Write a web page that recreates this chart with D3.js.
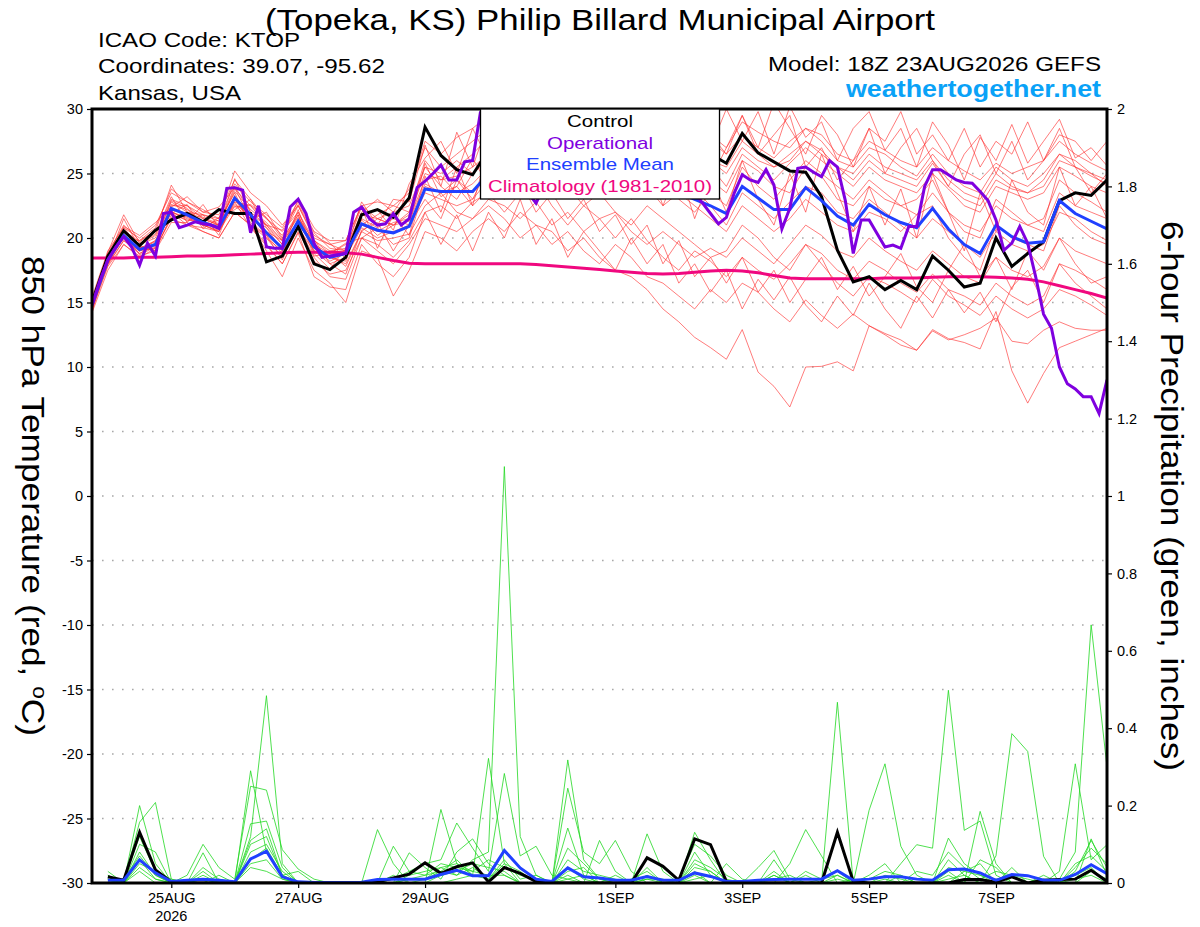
<!DOCTYPE html>
<html>
<head>
<meta charset="utf-8">
<script src="https://cdn.jsdelivr.net/npm/d3@7"></script>
<style>
  body { margin: 0; background: #fff; }
  svg text { font-family: "Liberation Sans", Arial, Helvetica, sans-serif; }
</style>
</head>
<body>
<div id="chart"></div>
<script>
// GEFS meteogram, 18Z 23AUG2026, KTOP. Temps 6-hourly from 18Z 23AUG (65 pts),
// operational 3-hourly (129 pts), precip 6-hour totals from 00Z 24AUG (64 pts).
var STEP_H = 6, OPER_STEP_H = 3;

var CTRL_T = [15.0,18.6,20.55,19.4,20.6,21.4,21.9,21.25,22.2,21.9,
              21.9,18.15,18.6,20.9,18.0,17.55,18.5,21.8,22.2,21.6,
              23.1,28.6,26.4,25.3,24.9,26.8,27.5,28.0,27.0,26.5,
              27.5,28.2,27.0,26.5,27.5,28.5,27.8,27.0,26.8,26.5,
              25.8,28.1,26.6,25.9,25.2,25.1,23.2,19.06,16.6,17.0,
              16.0,16.7,16.0,18.6,17.5,16.2,16.5,20.0,17.8,18.8,
              19.7,22.9,23.5,23.3,24.5];
var MEAN_T = [14.8,18.3,20.2,19.1,19.5,22.3,21.8,21.2,20.8,23.1,
              21.8,20.4,19.2,21.3,19.3,18.5,18.8,21.1,20.6,20.4,
              20.9,23.8,23.6,23.6,23.6,25.0,24.8,25.2,25.0,24.6,
              24.8,25.1,24.7,24.5,24.2,24.0,23.8,23.5,23.0,22.5,
              21.9,24.0,23.1,22.2,22.2,23.9,22.9,21.7,21.0,22.6,
              21.8,21.2,20.8,22.3,20.7,19.5,18.8,21.0,20.1,19.6,
              19.7,22.9,21.9,21.3,20.7];
var CLIM_T = [18.45,18.45,18.45,18.5,18.5,18.55,18.6,18.6,18.65,18.7,
              18.75,18.8,18.85,18.9,18.9,18.9,18.85,18.75,18.5,18.25,
              18.05,18.0,18.0,18.0,18.0,18.0,18.0,18.0,17.95,17.85,
              17.75,17.65,17.55,17.45,17.35,17.25,17.2,17.25,17.35,17.45,
              17.5,17.45,17.3,17.1,16.9,16.85,16.85,16.85,16.85,16.85,
              16.9,16.9,16.9,16.95,17.0,17.0,17.0,16.95,16.9,16.8,
              16.6,16.3,16.0,15.7,15.35];
var OPER_T = [14.8,16.7,18.3,19.3,20.1,19.3,17.9,19.6,18.6,21.9,22.0,
              20.8,21.0,21.25,21.1,21.0,20.75,23.85,23.9,23.7,20.4,
              22.5,19.3,19.2,19.2,22.4,23.0,21.9,19.6,18.5,18.6,
              18.7,18.8,22.0,22.4,21.5,21.0,21.1,21.9,21.0,21.5,
              23.9,24.4,25.0,25.65,24.5,24.5,25.9,26.0,29.8,28.0,
              27.0,26.0,25.5,24.5,23.5,22.7,24.0,25.0,26.0,25.5,
              26.5,27.0,26.0,25.5,26.5,27.5,26.0,25.0,26.0,27.0,
              26.5,25.5,26.0,25.0,24.5,23.5,22.7,21.9,21.1,21.6,
              23.5,24.9,24.5,24.3,25.3,24.1,20.7,22.3,25.4,25.5,
              25.1,24.75,26.0,25.5,22.9,18.8,21.4,21.4,20.35,19.3,
              19.45,19.2,20.9,20.9,24.0,25.3,25.3,24.9,24.5,24.3,
              24.25,23.6,22.9,21.4,19.05,19.6,20.9,19.6,17.0,14.1,
              13.0,10.0,8.7,8.3,7.7,7.7,6.4,9.0];

// ensemble members, 850 hPa temperature
var MEM_T_01 = [14.5,18.0,20.5,19.5,20.0,22.8,22.0,21.5,21.0,23.8,22.5,21.0,19.8,22.0,19.8,19.0,19.2,21.8,21.5,21.0,21.8,25.0,24.5,24.8,25.5,26.5,27.0,26.0,27.5,28.5,27.0,26.0,27.5,26.8,25.5,26.5,27.8,26.0,25.0,24.5,23.5,26.0,25.2,24.0,23.5,25.5,24.8,23.0,22.5,24.0,23.0,22.5,21.8,23.5,22.0,21.0,20.5,22.5,21.5,21.0,21.5,24.5,23.5,22.8,22.0];
var MEM_T_02 = [15.2,18.8,21.0,19.8,20.8,23.8,22.8,22.0,21.8,24.5,23.0,21.5,20.2,22.5,20.2,19.5,19.8,22.5,22.8,22.5,23.5,27.5,26.5,27.8,28.5,29.5,30.5,29.0,30.8,29.5,28.0,29.5,30.5,29.0,28.0,29.5,30.2,28.5,27.5,28.0,27.0,29.0,28.2,27.5,27.0,28.5,28.0,26.5,26.0,27.5,26.8,26.0,25.5,27.0,26.0,25.2,24.5,25.8,25.0,25.5,26.0,27.5,26.5,25.8,25.2];
var MEM_T_03 = [14.2,17.5,19.5,18.5,19.2,21.5,21.0,20.5,20.0,22.0,21.0,19.5,18.0,20.5,18.2,17.2,17.5,20.0,19.0,18.0,19.5,21.5,21.0,20.5,21.5,22.5,21.5,20.0,21.0,20.5,19.0,20.0,18.5,17.5,17.0,16.0,14.5,13.5,12.3,11.5,10.6,12.9,9.6,8.5,6.9,10.0,10.05,10.4,9.7,13.2,12.5,11.7,11.3,12.9,12.2,11.9,11.4,14.3,9.7,7.2,9.5,11.5,12.0,12.5,13.0];
var MEM_T_04 = [15.0,18.5,20.0,19.0,19.8,22.0,21.5,21.0,20.5,22.5,21.5,20.8,19.5,21.8,19.0,18.0,18.5,20.8,20.0,20.5,21.0,23.5,23.0,22.5,23.0,24.5,25.5,24.0,23.5,25.0,24.0,22.5,23.5,22.0,21.0,22.5,21.5,20.5,19.5,18.5,19.0,21.0,20.0,18.5,17.5,19.5,18.0,16.5,15.5,17.0,16.5,15.8,15.0,16.8,15.5,14.8,14.0,15.5,14.5,13.8,14.5,16.0,15.5,14.8,14.0];
var MEM_T_05 = [14.6,18.2,20.8,19.3,19.0,22.5,22.5,21.8,21.3,23.5,21.0,20.0,19.0,21.0,19.5,18.8,17.8,20.5,21.5,22.0,22.5,25.5,24.0,23.0,25.0,26.0,24.5,25.5,27.0,26.0,24.5,26.5,25.0,24.0,25.5,23.5,24.5,23.0,22.0,23.5,22.5,25.5,24.0,23.0,24.5,26.0,25.0,24.0,23.0,24.5,23.5,22.5,23.0,24.5,22.0,20.5,20.0,23.0,22.0,21.0,20.5,23.5,22.5,22.0,21.5];
var MEM_T_06 = [15.3,18.0,19.8,18.8,19.5,22.0,21.0,20.8,20.5,22.8,22.5,21.5,20.5,22.0,19.5,18.5,18.2,21.5,20.8,19.5,20.0,24.0,23.5,24.5,23.5,24.8,26.0,27.0,25.5,24.0,25.8,27.2,26.0,25.0,23.5,24.5,25.8,24.5,23.8,22.5,21.0,23.5,22.5,21.5,22.8,24.0,23.5,22.0,21.5,23.0,22.0,21.0,20.0,21.5,20.5,19.5,18.5,20.5,19.5,19.0,19.5,22.0,21.5,20.5,19.8];
var MEM_T_07 = [14.8,18.6,20.5,19.5,20.2,23.0,22.5,21.5,21.0,24.0,22.0,20.0,18.5,21.0,18.5,17.0,16.8,20.0,19.5,18.5,19.8,22.0,22.5,21.5,22.8,23.5,22.0,23.5,24.5,22.5,21.0,22.5,21.5,20.0,21.5,19.8,18.5,17.5,19.0,18.2,17.0,18.5,17.5,16.8,18.0,19.5,18.8,17.5,16.8,18.2,17.5,16.5,15.8,17.2,16.0,15.5,14.8,16.5,15.5,14.8,15.5,18.0,17.5,16.8,16.0];
var MEM_T_08 = [14.9,18.1,20.0,19.8,20.5,24.1,22.0,21.8,21.5,25.2,23.5,22.5,21.0,22.5,20.0,19.5,19.0,22.0,23.0,22.0,23.8,27.0,25.5,26.5,27.5,28.5,29.0,28.0,29.5,28.2,27.5,28.8,29.5,30.5,28.5,27.0,28.5,29.5,28.0,27.5,26.5,28.0,27.0,26.2,27.5,28.5,27.5,26.0,25.5,27.0,26.5,25.5,24.8,26.5,25.0,24.0,23.5,25.5,24.5,24.0,25.0,26.5,26.0,25.0,24.5];
var MEM_T_09 = [14.4,17.8,19.5,18.6,19.0,21.2,21.2,20.5,20.0,22.0,21.0,19.0,17.0,20.0,17.5,16.5,15.0,19.0,18.5,15.5,17.5,20.5,20.0,19.0,20.5,21.5,20.5,22.0,21.0,19.5,20.5,19.0,18.0,19.5,18.5,17.0,16.5,15.5,14.5,16.0,15.0,16.5,15.8,14.5,13.5,15.2,14.0,13.0,14.1,13.2,12.6,12.1,11.3,12.8,12.1,12.5,13.0,13.8,12.0,11.8,12.85,13.5,13.0,12.85,12.85];
var MEM_T_10 = [15.1,18.4,20.3,19.0,19.6,22.6,22.2,21.6,21.1,23.6,22.2,21.2,19.8,21.6,19.8,18.8,19.5,21.0,20.5,21.2,21.5,24.5,24.8,23.5,24.2,25.5,27.0,26.5,25.0,26.8,28.0,26.5,25.5,27.0,26.0,25.0,26.5,25.5,24.5,25.5,24.0,26.5,25.5,24.5,25.8,27.0,26.0,25.0,24.0,25.5,24.5,24.0,23.5,25.0,23.8,22.5,22.0,24.0,23.5,23.0,23.5,25.5,24.8,24.0,23.5];
var MEM_T_11 = [14.7,18.3,21.5,19.2,19.8,22.0,21.6,21.0,20.5,23.0,21.5,20.5,19.8,21.2,19.2,18.2,18.8,21.4,20.2,21.0,21.3,24.2,23.5,24.0,22.5,23.8,25.0,24.0,26.0,25.0,23.5,24.5,26.0,24.8,23.0,24.0,22.5,23.5,22.5,21.5,20.5,22.5,21.5,20.5,21.5,23.0,22.0,21.0,20.5,22.0,21.5,20.5,21.8,22.5,20.0,18.5,17.5,21.0,20.0,19.5,19.0,22.5,21.0,20.0,19.5];
var MEM_T_12 = [15.0,18.7,20.2,19.4,19.0,21.8,21.4,21.2,21.0,22.6,21.8,21.0,19.5,20.8,19.0,18.6,18.9,21.0,21.8,22.5,22.0,25.5,25.0,26.0,25.0,26.5,25.5,27.5,28.0,27.0,26.0,27.5,26.5,25.5,26.5,27.0,25.5,24.5,25.5,26.0,25.0,27.0,26.0,25.5,26.5,27.5,26.5,25.5,24.5,26.0,25.0,24.5,24.0,25.8,24.0,23.0,22.5,24.5,23.8,23.5,24.0,26.0,25.5,25.0,24.0];
var MEM_T_13 = [14.5,18.2,20.1,18.8,19.4,22.2,21.9,21.3,20.8,23.0,21.2,20.2,18.8,21.5,19.5,18.5,18.0,20.5,19.8,20.0,20.3,22.5,23.5,22.0,21.5,23.0,22.5,21.5,22.8,21.0,22.0,20.5,21.5,22.0,20.5,19.5,20.5,19.5,18.5,19.2,18.5,20.0,19.0,18.0,19.5,21.0,20.2,19.0,18.5,20.0,19.0,18.2,17.5,19.0,18.0,17.0,16.5,18.5,17.5,17.0,17.8,20.0,19.0,18.5,18.0];
var MEM_T_14 = [15.4,19.0,20.8,20.0,21.0,23.5,22.8,22.2,21.5,24.2,22.8,21.8,20.8,22.8,20.5,19.8,19.8,22.5,21.5,21.0,22.0,26.0,24.5,25.5,26.5,27.8,28.5,27.0,28.8,29.5,28.0,27.0,28.5,27.5,29.0,28.0,27.0,28.5,27.0,26.0,25.5,27.5,26.5,25.5,26.0,27.5,26.8,25.5,25.0,26.5,25.5,25.0,24.5,26.0,24.5,23.5,23.0,25.0,24.0,23.5,24.5,26.5,25.5,24.8,24.2];
var MEM_T_15 = [14.7,18.9,21.8,19.6,20.3,23.2,21.2,22.6,20.8,24.6,22.0,21.0,20.6,22.6,20.4,19.2,19.0,22.8,21.0,23.0,22.8,27.2,24.0,28.2,25.5,29.0,26.5,30.5,28.0,31.0,27.5,30.0,26.5,29.5,27.0,30.5,28.0,31.0,29.5,27.0,30.0,27.5,29.8,26.5,30.2,27.8,29.0,26.0,28.5,29.8,26.8,28.5,25.5,29.0,27.2,24.5,27.8,26.0,28.8,25.8,27.5,29.2,26.2,27.0,25.6];
var MEM_T_16 = [15.1,18.2,20.6,19.7,20.6,21.9,22.6,20.7,21.6,22.2,23.0,20.8,19.0,22.2,18.8,17.6,19.2,22.4,19.2,21.8,20.2,24.8,22.0,25.5,22.5,27.0,23.5,26.0,24.0,27.5,24.5,28.0,25.0,27.5,23.5,26.0,22.5,25.5,21.5,24.8,22.0,26.0,23.0,21.0,25.0,22.0,26.5,23.5,20.5,24.0,21.0,23.8,20.0,25.0,22.0,19.0,23.5,20.5,24.5,22.0,21.0,25.5,22.5,24.0,21.5];
var MEM_T_17 = [14.3,18.4,20.9,20.2,21.2,22.4,23.2,22.0,22.4,23.9,21.4,22.0,20.0,23.0,20.8,19.6,18.4,21.8,22.2,20.6,24.2,26.2,27.5,25.0,28.5,26.0,29.5,27.0,30.2,26.8,29.5,27.0,31.0,28.0,27.5,30.0,26.5,29.0,30.5,28.0,26.5,29.5,27.0,30.5,28.5,26.5,29.5,28.0,25.5,28.5,27.5,29.8,26.5,28.0,26.0,28.5,25.5,27.5,26.5,29.0,26.0,28.0,27.5,26.0,27.5];
var MEM_T_18 = [14.9,18.0,20.2,18.7,19.3,22.1,21.3,21.8,20.2,23.3,21.0,20.2,18.3,21.0,19.9,18.0,17.2,20.6,21.2,19.0,21.0,23.0,21.5,24.5,23.0,25.5,23.0,24.5,22.0,23.5,21.5,23.0,20.5,21.8,19.5,21.0,18.0,19.8,17.0,18.5,16.5,18.5,15.8,17.5,15.0,16.8,18.5,16.0,17.8,15.5,17.0,18.8,16.2,15.0,17.5,19.5,17.0,18.5,16.0,19.0,17.5,20.0,18.0,16.5,17.0];
var MEM_T_19 = [15.0,18.3,20.0,19.2,19.7,22.9,22.3,20.9,21.4,22.4,22.6,21.6,19.9,21.8,18.6,18.8,19.6,20.0,20.8,21.5,21.0,25.8,23.2,24.0,26.2,24.0,27.8,25.5,28.5,25.5,27.0,29.5,26.0,28.5,25.5,27.0,29.0,26.5,28.0,24.5,27.0,29.5,26.5,28.0,29.5,25.5,27.0,24.5,26.0,28.5,25.0,27.0,28.5,26.0,24.0,26.5,28.0,25.0,27.5,24.5,26.0,28.5,25.5,23.5,25.0];
var MEM_T_20 = [14.6,17.9,19.8,19.0,19.2,21.6,21.7,21.0,20.6,22.8,20.8,19.4,18.0,20.4,17.0,16.2,16.0,19.5,18.0,17.0,18.5,22.0,19.5,21.8,19.0,22.0,20.0,23.0,19.5,21.5,18.5,20.5,19.0,17.5,20.0,18.0,19.5,16.5,18.0,15.8,17.5,14.5,16.8,15.2,17.0,14.8,13.5,15.5,14.0,16.5,14.5,13.0,15.5,13.8,16.0,14.2,15.8,13.5,16.2,17.5,15.0,18.0,16.5,15.5,14.5];

// 6-hour precipitation (inches)
var CTRL_P = [0.016,0.007,0.131,0.034,0.003,0,0,0, 0,0,0,0,0,0,0,0,
              0,0.003,0.013,0.023,0.052,0.025,0.042,0.052, 0.003,0.040,0.025,0.004,0,0,0,0,
              0,0,0.065,0.043,0.007,0.114,0.099,0.004, 0,0,0,0,0,0,0.131,0.004,
              0,0,0,0,0,0,0.009,0.009, 0.002,0.016,0,0.007,0.009,0.010,0.033,0.004];
var MEAN_P = [0.007,0.007,0.060,0.026,0.004,0.007,0.010,0.007, 0.003,0.062,0.082,0.016,0.003,0.001,0.001,0.001,
              0.002,0.009,0.010,0.010,0.010,0.022,0.033,0.019, 0.019,0.084,0.039,0.010,0.004,0.039,0.016,0.013,
              0.007,0.007,0.017,0.007,0.007,0.026,0.017,0.004, 0.004,0.007,0.009,0.010,0.010,0.010,0.032,0.007,
              0.010,0.016,0.016,0.010,0.007,0.034,0.036,0.026, 0.007,0.022,0.019,0.007,0.007,0.022,0.047,0.024];
var MEM_P_01 = [0.02,0,0.20,0.05,0,0,0.03,0, 0,0.12,0.484,0.05,0,0,0,0, 0,0,0.02,0,0.01,0.04,0.02,0.06, 0.08,1.076,0.12,0.02,0,0.04,0.01,0,
                0,0.01,0.03,0,0,0.08,0.02,0, 0,0,0.02,0,0,0.01,0.03,0, 0,0,0.02,0,0,0.116,0.05,0.02, 0,0.04,0,0,0.01,0.08,0.667,0.30];
var MEM_P_02 = [0.01,0,0.157,0.208,0.01,0,0,0.02, 0,0.29,0.08,0.02,0,0,0,0, 0,0.138,0.05,0,0,0.19,0.05,0.02, 0.322,0.05,0,0,0,0.318,0.06,0.01,
                0,0,0.01,0,0,0.131,0.06,0, 0,0.04,0.084,0.01,0,0,0.467,0, 0,0.02,0.01,0,0,0.03,0,0.185, 0.05,0,0,0.02,0,0,0.114,0.02];
var MEM_P_03 = [0,0.01,0.12,0.03,0,0.02,0.10,0.04, 0.01,0.25,0.24,0.086,0.036,0.01,0,0, 0,0,0.095,0.03,0.05,0.06,0.155,0.09, 0.03,0.283,0.07,0.095,0.02,0.01,0,0.11,
                0.03,0,0.127,0.03,0,0,0,0.05, 0.01,0,0,0.05,0.138,0.07,0,0, 0.188,0.308,0.095,0.02,0,0,0,0, 0.07,0.386,0.34,0.069,0,0,0,0];
var MEM_P_04 = [0.03,0,0.10,0.08,0,0,0.078,0, 0,0.153,0.16,0.04,0,0,0,0, 0,0,0,0.078,0.04,0.01,0.08,0.114, 0.05,0.02,0,0,0,0.245,0.08,0.05,
                0.11,0.03,0,0,0.01,0.10,0.07,0.02, 0,0,0.06,0,0,0,0,0.01, 0,0,0.05,0.099,0.09,0.498,0.136,0.16, 0.02,0,0,0,0.03,0.308,0.06,0.099];
var MEM_P_05 = [0.01,0,0.08,0.02,0,0,0,0, 0,0.10,0.12,0.02,0.03,0,0,0, 0,0,0,0.02,0.03,0.04,0.05,0.03, 0.02,0.08,0.04,0.01,0,0.142,0.02,0,
                0,0,0,0,0,0.05,0.03,0, 0,0,0,0,0.02,0,0,0, 0,0,0,0,0,0.06,0.02,0, 0,0,0,0,0,0.04,0.09,0.05];
var MEM_P_06 = [0,0,0.06,0.01,0,0,0.01,0, 0,0.08,0.10,0.03,0,0,0,0, 0,0,0,0,0,0.02,0.03,0.05, 0.04,0.03,0,0,0,0.03,0.04,0,
                0,0,0.04,0,0,0.02,0,0, 0,0,0.03,0,0,0,0,0, 0.02,0.05,0,0,0,0.02,0,0.06, 0.04,0,0,0,0,0.02,0.04,0];
var MEM_P_07 = [0.02,0,0.04,0.01,0,0,0,0, 0,0.05,0.06,0.01,0,0,0,0, 0,0,0,0.01,0.02,0.03,0.02,0.04, 0.01,0.05,0.03,0,0,0.02,0,0,
                0.02,0,0,0,0,0.03,0,0, 0,0,0,0,0,0,0.01,0, 0,0,0,0,0,0,0.03,0.05, 0,0,0,0.01,0,0,0.03,0.01];
var MEM_P_08 = [0,0,0.03,0,0,0,0.02,0, 0,0.04,0.03,0.01,0,0,0,0, 0,0,0,0,0,0,0.01,0.02, 0.02,0.02,0,0,0,0.01,0.02,0,
                0,0,0,0,0,0.01,0.02,0, 0,0,0,0,0,0,0,0, 0,0,0,0,0,0.01,0.02,0, 0,0,0,0,0,0.01,0.02,0];
var MEM_P_09 = [0.01,0,0.05,0.03,0.01,0,0.04,0.01, 0,0.06,0.09,0.02,0,0,0,0, 0,0,0.01,0.03,0.02,0.05,0.04,0.03, 0.06,0.04,0.02,0.01,0,0.06,0.03,0.02,
                0.01,0,0.02,0,0,0.04,0.03,0, 0,0,0.01,0.02,0,0,0.02,0, 0.01,0.03,0.02,0,0,0.04,0.03,0.02, 0.01,0.02,0,0,0,0.05,0.07,0.03];
var MEM_P_10 = [0,0.01,0.07,0.02,0,0,0.01,0, 0,0.11,0.14,0.02,0,0,0,0, 0,0,0,0.01,0.01,0.03,0.06,0.02, 0.01,0.06,0.01,0.02,0,0.09,0.05,0.01,
                0,0,0.01,0.01,0,0.06,0.04,0.01, 0,0,0.02,0,0.03,0.01,0.02,0, 0,0.01,0,0.03,0.02,0.08,0.04,0.01, 0.03,0.02,0.01,0,0,0.03,0.11,0.04];

var MEMBERS_T = [MEM_T_01, MEM_T_02, MEM_T_03, MEM_T_04, MEM_T_05, MEM_T_06, MEM_T_07,
                 MEM_T_08, MEM_T_09, MEM_T_10, MEM_T_11, MEM_T_12, MEM_T_13, MEM_T_14,
                 MEM_T_15, MEM_T_16, MEM_T_17, MEM_T_18, MEM_T_19, MEM_T_20];
var MEMBERS_P = [MEM_P_01, MEM_P_02, MEM_P_03, MEM_P_04, MEM_P_05,
                 MEM_P_06, MEM_P_07, MEM_P_08, MEM_P_09, MEM_P_10];

// axis ticks
var XTICK_HOURS = [30, 78, 126, 198, 246, 294, 342];
var XTICK_LABELS = ['25AUG', '27AUG', '29AUG', '1SEP', '3SEP', '5SEP', '7SEP'];
var T_TICKS = [-30, -25, -20, -15, -10, -5, 0, 5, 10, 15, 20, 25, 30];
var P_TICKS = [0, 0.2, 0.4, 0.6, 0.8, 1, 1.2, 1.4, 1.6, 1.8, 2];
var LEGEND = [['Control', '#000000'], ['Operational', '#7f00df'],
              ['Ensemble Mean', '#2040ff'], ['Climatology (1981-2010)', '#f0087f']];

(function () {
    'use strict';
    var W = 1200, H = 927;
    var L = 92, R = 1107, T = 109, B = 883;

    var svg = d3.select('#chart').append('svg')
        .attr('width', W).attr('height', H).style('background', '#fff');

    var x = d3.scaleLinear().domain([0, 384]).range([L, R]);
    var yT = d3.scaleLinear().domain([-30, 30]).range([B, T]);
    var yP = d3.scaleLinear().domain([0, 2]).range([B, T]);

    svg.append('defs').append('clipPath').attr('id', 'plot')
        .append('rect').attr('x', L).attr('y', T).attr('width', R - L).attr('height', B - T);

    // dotted grid from the temperature axis
    T_TICKS.filter(function (t) { return t > -30 && t < 30; }).forEach(function (t) {
        svg.append('line').attr('x1', L).attr('x2', R).attr('y1', yT(t)).attr('y2', yT(t))
            .attr('stroke', '#a8a8a8').attr('stroke-width', 1.6).attr('stroke-dasharray', '1.6,8.4');
    });

    var g = svg.append('g').attr('clip-path', 'url(#plot)');

    var lineT = function (step) {
        return d3.line().x(function (d, i) { return x(i * step); }).y(function (d) { return yT(d); });
    };
    var lineP = d3.line().x(function (d, i) { return x((i + 1) * STEP_H); }).y(function (d) { return yP(d); });

    MEMBERS_T.forEach(function (m) {
        g.append('path').datum(m).attr('d', lineT(STEP_H)).attr('fill', 'none')
            .attr('stroke', '#ff3030').attr('stroke-opacity', 0.75).attr('stroke-width', 0.85);
    });
    MEMBERS_P.forEach(function (m) {
        g.append('path').datum(m).attr('d', lineP).attr('fill', 'none')
            .attr('stroke', '#22d822').attr('stroke-width', 0.8);
    });

    g.append('path').datum(CLIM_T).attr('d', lineT(STEP_H)).attr('fill', 'none')
        .attr('stroke', '#f0087f').attr('stroke-width', 3);
    g.append('path').datum(CTRL_P).attr('d', lineP).attr('fill', 'none')
        .attr('stroke', '#000').attr('stroke-width', 3);
    g.append('path').datum(MEAN_P).attr('d', lineP).attr('fill', 'none')
        .attr('stroke', '#2040ff').attr('stroke-width', 3);
    g.append('path').datum(CTRL_T).attr('d', lineT(STEP_H)).attr('fill', 'none')
        .attr('stroke', '#000').attr('stroke-width', 3);
    g.append('path').datum(MEAN_T).attr('d', lineT(STEP_H)).attr('fill', 'none')
        .attr('stroke', '#2040ff').attr('stroke-width', 3);
    g.append('path').datum(OPER_T).attr('d', lineT(OPER_STEP_H)).attr('fill', 'none')
        .attr('stroke', '#7f00df').attr('stroke-width', 3);

    // axes
    var ax = svg.append('g').attr('transform', 'translate(' + L + ',0)')
        .call(d3.axisLeft(yT).tickValues(T_TICKS).tickSize(5).tickPadding(4)
            .tickFormat(function (d) { return String(d); }));
    var ar = svg.append('g').attr('transform', 'translate(' + R + ',0)')
        .call(d3.axisRight(yP).tickValues(P_TICKS).tickSize(5).tickPadding(5)
            .tickFormat(function (d) { return String(+d.toFixed(1)); }));
    var ab = svg.append('g').attr('transform', 'translate(0,' + B + ')')
        .call(d3.axisBottom(x).tickValues(XTICK_HOURS).tickSize(5).tickPadding(5)
            .tickFormat(function (d, i) { return XTICK_LABELS[i]; }));
    [ax, ar, ab].forEach(function (a) {
        a.select('.domain').remove();
        a.selectAll('text').attr('font-size', 14.5).attr('fill', '#000')
            .attr('font-family', '"Liberation Sans", Arial, sans-serif');
        a.selectAll('line').attr('stroke', '#000').attr('stroke-width', 1.2);
    });
    svg.append('text').attr('x', x(XTICK_HOURS[0])).attr('y', 921)
        .attr('text-anchor', 'middle').attr('font-size', 14.5).text('2026');

    svg.append('rect').attr('x', L).attr('y', T).attr('width', R - L).attr('height', B - T)
        .attr('fill', 'none').attr('stroke', '#000').attr('stroke-width', 3);

    // legend box
    svg.append('rect').attr('x', 480.5).attr('y', T).attr('width', 239).attr('height', 90)
        .attr('fill', '#fff').attr('stroke', '#000').attr('stroke-width', 1.3);
    var legW = [66, 106, 148, 224];
    LEGEND.forEach(function (d, i) {
        svg.append('text').attr('x', 600).attr('y', 127 + i * 21.6)
            .attr('text-anchor', 'middle').attr('font-size', 17).attr('fill', d[1])
            .attr('textLength', legW[i]).attr('lengthAdjust', 'spacingAndGlyphs').text(d[0]);
    });

    // titles
    svg.append('text').attr('x', 600).attr('y', 30).attr('text-anchor', 'middle')
        .attr('font-size', 30).attr('textLength', 670).attr('lengthAdjust', 'spacingAndGlyphs')
        .text('(Topeka, KS) Philip Billard Municipal Airport');
    [['ICAO Code: KTOP', 47, 202], ['Coordinates: 39.07, -95.62', 73, 287], ['Kansas, USA', 100, 143]]
        .forEach(function (d) {
            svg.append('text').attr('x', 98).attr('y', d[1]).attr('font-size', 21)
                .attr('textLength', d[2]).attr('lengthAdjust', 'spacingAndGlyphs').text(d[0]);
        });
    svg.append('text').attr('x', 1101).attr('y', 71).attr('text-anchor', 'end')
        .attr('font-size', 21).attr('textLength', 333).attr('lengthAdjust', 'spacingAndGlyphs')
        .text('Model: 18Z 23AUG2026 GEFS');
    svg.append('text').attr('x', 1101).attr('y', 97).attr('text-anchor', 'end')
        .attr('font-size', 23).attr('font-weight', 'bold').attr('fill', '#0aa2f7')
        .attr('textLength', 255).attr('lengthAdjust', 'spacingAndGlyphs')
        .text('weathertogether.net');

    var yl = svg.append('text').attr('transform', 'translate(22,496) rotate(90)')
        .attr('text-anchor', 'middle').attr('font-size', 31)
        .attr('textLength', 480).attr('lengthAdjust', 'spacingAndGlyphs');
    yl.append('tspan').text('850 hPa Temperature (red, ');
    yl.append('tspan').attr('font-size', 20).attr('dy', -11).text('o');
    yl.append('tspan').attr('dy', 11).text('C)');

    svg.append('text').attr('transform', 'translate(1161,496) rotate(90)')
        .attr('text-anchor', 'middle').attr('font-size', 31)
        .attr('textLength', 550).attr('lengthAdjust', 'spacingAndGlyphs')
        .text('6-hour Precipitation (green, inches)');
})();
</script>
</body>
</html>
